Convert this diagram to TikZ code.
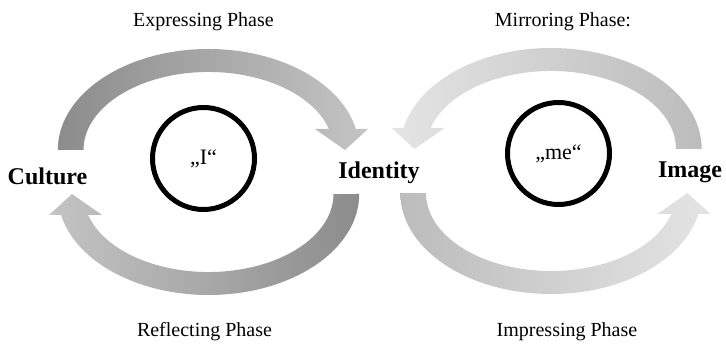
\documentclass[tikz,border=0pt]{standalone}
\usepackage{fontspec}
\setmainfont{Liberation Serif}
\definecolor{arcdark}{RGB}{140,140,140}
\definecolor{arclight}{RGB}{196,196,196}
\definecolor{arcsoft}{RGB}{188,188,188}
\definecolor{arcpale}{RGB}{228,228,228}
\begin{document}
\begin{tikzpicture}[x=1pt,y=1pt,
        phase/.style={font=\fontsize{20}{24}\selectfont, anchor=base},
        pole/.style={font=\bfseries\fontsize{24}{28}\selectfont, anchor=base},
        self/.style={draw, circle, line width=5pt, minimum size=102pt,
                     font=\fontsize{22}{26}\selectfont}]
        \useasboundingbox (0,0) rectangle (726,345);

        % draw the four curved arrows
        \foreach \cx/\cy/\sx/\sy/\lc/\rc in {
            208.5/173/1/1/arcdark/arclight,
            208.5/173/-1/-1/arclight/arcdark,
            551/174/-1/1/arcpale/arcsoft,
            551/174/1/-1/arcsoft/arcpale}
                \shade[left color=\lc, right color=\rc,
                       shift={(\cx,\cy)}, xscale=\sx, yscale=\sy]
                    (-150.7,22) arc[start angle=180, end angle=12,
                                    x radius=150.7, y radius=101]
                    -- (159.5,43) -- (136.5,22) -- (106.5,43)
                    -- (120.4,43) arc[start angle=15.6, end angle=180,
                                      x radius=125, y radius=78] -- cycle;

        % draw the two circles
        \node[self] (selfI) at (203.5,186.5) {„I“};
        \node[self] (selfMe) at (558.5,191.5) {„me“};

        % draw the three poles
        \node[pole] (culture) at (47.5,160) {Culture};
        \node[pole] (identity) at (379,166) {Identity};
        \node[pole] (image) at (690,167) {Image};

        % draw each phase
        \foreach \name/\x/\y/\txt in {
            expressing/203.5/318/Expressing Phase,
            mirroring/563/318/Mirroring Phase:,
            reflecting/204.5/8/Reflecting Phase,
            impressing/567/8/Impressing Phase}
                \node[phase] (\name) at (\x,\y) {\txt};
\end{tikzpicture}
\end{document}
